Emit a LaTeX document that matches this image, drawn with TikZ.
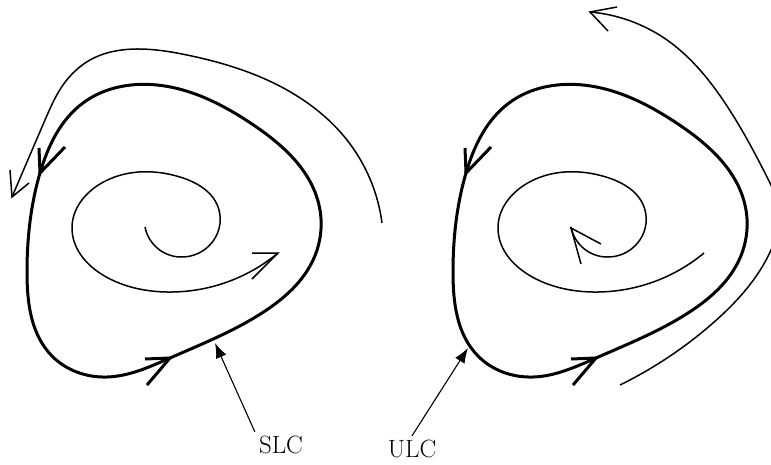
\documentclass[tikz,border=0pt]{standalone}
\usetikzlibrary{arrows.meta,hobby}
\begin{document}
\begin{tikzpicture}[x=1pt,y=-1pt,
  cyc/.style={line width=3pt,line join=round},
  thin/.style={line width=1.5pt,line join=round},
  barbthick/.style={line width=3pt},
  barbthin/.style={line width=1.5pt},
  lab/.style={font=\fontsize{25}{30}\selectfont,inner sep=4pt},
  pointer/.style={line width=1.1pt,-{Latex[length=15pt,width=11pt]}}]
\useasboundingbox (0,0) rectangle (771,464);
\clip (0,0) rectangle (771,464);
% limit cycles (left: SLC, right: ULC shifted)
\foreach \sx in {0,426}{
\begin{scope}[xshift=\sx pt]
\draw[cyc,use Hobby shortcut,closed=true] (157,85) .. (83,103) .. (40,173) .. (27,272) .. (52,356) .. (107,377) .. (170,358) .. (262,313) .. (314,258) .. (319,205) .. (252,124);
\draw[barbthick] (39,148) -- (40,173) -- (65,147);
\draw[barbthick] (145,359) -- (170,358) -- (147,385);
\draw[thin,use Hobby shortcut] (145,227) .. (180,257) .. (219,210) .. (180,177) .. (100,184) .. (72,227) .. (110,279) .. (167,292) .. (278,253);
\end{scope}}
% arrows on inner spirals
\draw[barbthin] (252,253) -- (278,253) -- (252,279);
\draw[barbthin] (601,244) -- (571,228) -- (581,264);
% outer trajectories
\draw[thin,use Hobby shortcut] (382,223) .. (347,140) .. (287,90) .. (187,55) .. (140,49) .. (90,60) .. (63,85) .. (45,120) .. (12,197);
\draw[barbthin] (10,170) -- (12,197) -- (29,183);
\draw[thin,use Hobby shortcut] (620,385) .. (713,323) .. (771,250) .. (779,212) .. (766,175) .. (723,100) .. (667,40) .. (590,12);
\draw[barbthin] (617,7) -- (590,12) -- (608,31);
% labels
\node[lab] (slc) at (281,445) {SLC};
\node[lab] (ulc) at (412,449) {ULC};
\coordinate (slctip) at (215,343);
\coordinate (ulctip) at (468,348);
\draw[pointer] (slc.north west) -- (slctip);
\draw[pointer] (ulc.north) -- (ulctip);
\end{tikzpicture}
\end{document}
